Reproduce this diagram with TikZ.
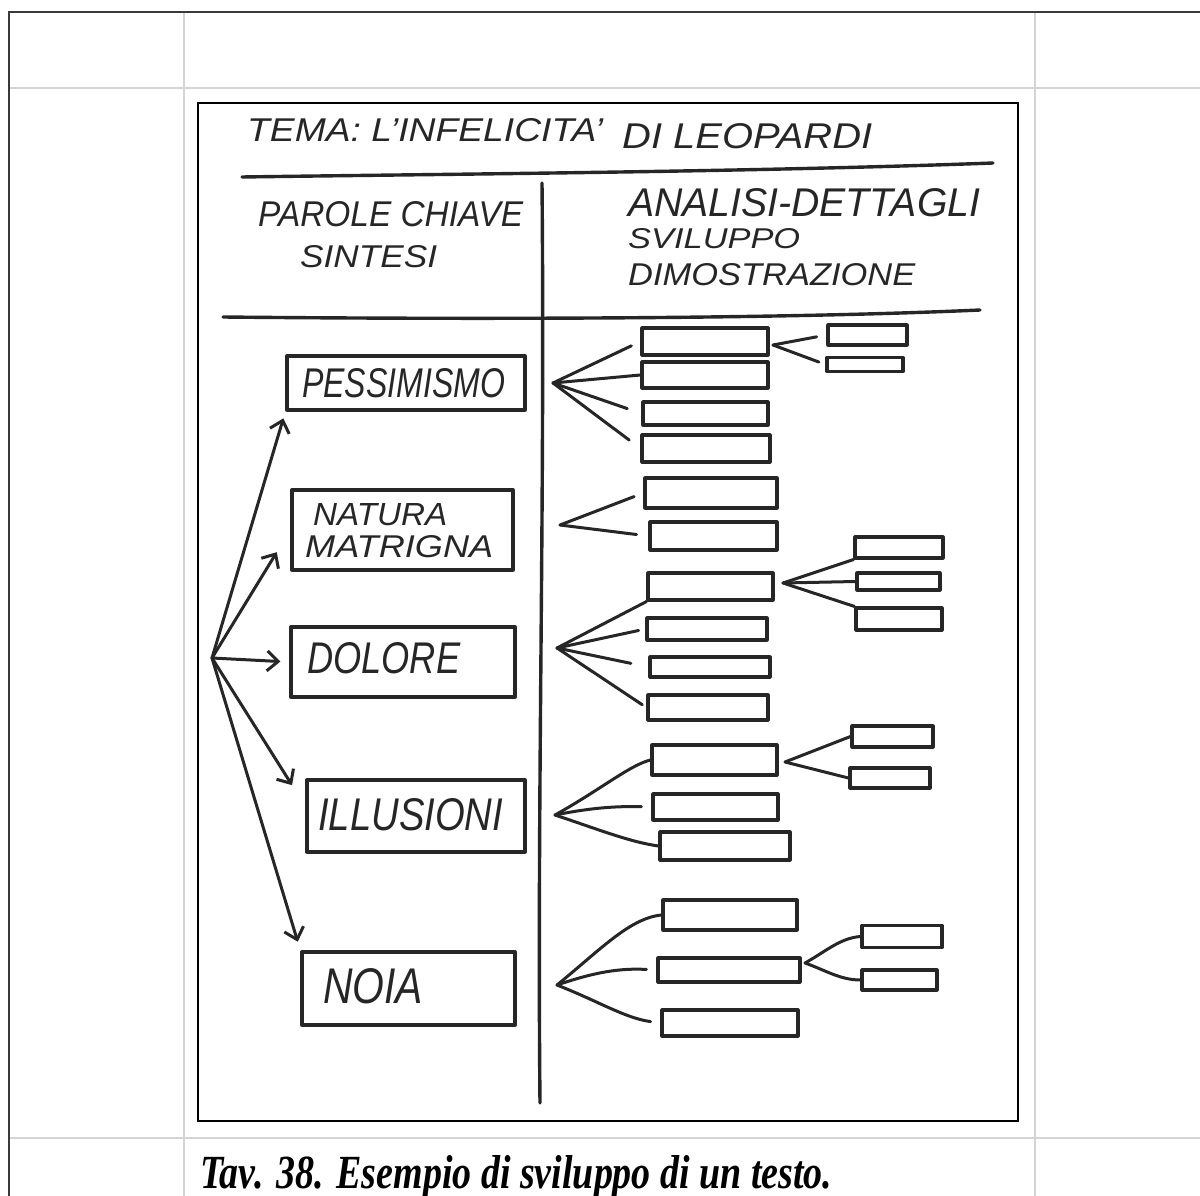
\documentclass[tikz,border=0pt]{standalone}
\usepackage{fontspec}
\usepackage{graphicx}
\usetikzlibrary{arrows.meta}

\newfontfamily\handfont{Liberation Sans}
\newfontfamily\capfont{Liberation Serif}

% handwritten-style label fitted to a given width and cap height
\newcommand{\hw}[3]{\resizebox{#1pt}{#2pt}{\handfont\itshape #3}}

\definecolor{ink}{HTML}{262626}
\definecolor{gridgray}{HTML}{D4D4D4}
\definecolor{tableborder}{HTML}{3A3A3A}

\tikzset{
  boxwh/.style 2 args={rectangle, draw=ink, line width=3.3pt, line join=round,
    inner sep=0pt, minimum width=#1pt, minimum height=#2pt},
  barwh/.style 2 args={rectangle, draw=ink, line width=3.1pt, line join=round,
    inner sep=0pt, minimum width=#1pt, minimum height=#2pt},
  lbl/.style={anchor=base west, inner sep=0pt, text=ink},
  pen/.style={draw=ink, line width=3.4pt, line cap=round, line join=round},
  fan/.style={draw=ink, line width=3pt, line cap=round},
  harrow/.style={fan, -{Straight Barb[length=11pt,width=20pt]}},
}

\begin{document}
\begin{tikzpicture}[x=1pt,y=-1pt]
\useasboundingbox (0,0) rectangle (1200,1196);

% page table
\draw[gridgray, line width=2pt]
  (184,13) -- (184,1196) (1035,13) -- (1035,1196)
  (9,88) -- (1200,88) (9,1138) -- (1200,1138);
\draw[tableborder, line width=2.2pt] (9,1196) -- (9,12) -- (1200,12);

% figure frame
\draw[black, line width=1.6pt] (198,103) rectangle (1018,1121);

% header
\node[lbl] (title1) at (247,142) {\hw{356}{23}{TEMA: L’INFELICITA’}};
\node[lbl] (title2) at (622,149) {\hw{250}{25}{DI LEOPARDI}};
\coordinate (ruleAl) at (242,177);
\coordinate (ruleAr) at (993,163);
\draw[pen] (ruleAl) .. controls (450,174) and (750,172) .. (ruleAr);

\node[lbl] (hdL1) at (258,226) {\hw{265}{25}{PAROLE CHIAVE}};
\node[lbl] (hdL2) at (300,267) {\hw{137}{22}{SINTESI}};
\node[lbl] (hdR1) at (628,216) {\hw{352}{28}{ANALISI-DETTAGLI}};
\node[lbl] (hdR2) at (628,248) {\hw{172}{20}{SVILUPPO}};
\node[lbl] (hdR3) at (628,285) {\hw{287}{22}{DIMOSTRAZIONE}};

\coordinate (ruleBl) at (223,317);
\coordinate (ruleBr) at (980,310);
\draw[pen] (ruleBl) .. controls (420,319) and (760,320) .. (ruleBr);

\coordinate (divTop) at (542,183);
\coordinate (divBot) at (540,1103);
\draw[pen] (divTop) .. controls (545,500) and (537,800) .. (divBot);

% key words
\node[boxwh={238}{54}] (pes) at (406,383) {};
\node[boxwh={221}{80}] (nat) at (402.5,530) {};
\node[boxwh={224}{70}] (dol) at (403,662) {};
\node[boxwh={218}{72}] (ill) at (416,816) {};
\node[boxwh={213}{73}] (noi) at (408.5,988.5) {};

\node[lbl] (tPes) at (302,397) {\hw{203}{29}{PESSIMISMO}};
\node[lbl] (tNat1) at (313,525) {\hw{134}{22}{NATURA}};
\node[lbl] (tNat2) at (305,557) {\hw{188}{22}{MATRIGNA}};
\node[lbl] (tDol) at (307,673) {\hw{153}{31}{DOLORE}};
\node[lbl] (tIll) at (318,830) {\hw{185}{32}{ILLUSIONI}};
\node[lbl] (tNoi) at (323,1003) {\hw{100}{35}{NOIA}};

% arrows from the theme to the key words
\coordinate (hub) at (212,658);
\draw[harrow, shorten >=7pt] (hub) -- (pes.south west);
\draw[harrow, shorten >=26pt] (hub) -- (nat.west);
\draw[harrow, shorten >=9pt] (hub) -- (dol.west);
\draw[harrow, shorten >=25pt] (hub) -- (ill.175);
\draw[harrow, shorten >=9pt] (hub) -- (noi.north west);

% details: bars
\node[barwh={126}{27}] (b1) at (705,341.5) {};
\node[barwh={126}{26}] (b2) at (705,375) {};
\node[barwh={125}{23}] (b3) at (705.5,413.5) {};
\node[barwh={128}{27}] (b4) at (706,448.5) {};
\node[barwh={132}{30}] (b5) at (711,493) {};
\node[barwh={127}{28}] (b6) at (713.5,536) {};
\node[barwh={125}{27}] (b7) at (710.5,586.5) {};
\node[barwh={120}{22}] (b8) at (707,629) {};
\node[barwh={120}{20}] (b9) at (710,667) {};
\node[barwh={120}{25}] (b10) at (708,707.5) {};
\node[barwh={125}{30}] (b11) at (714.5,760) {};
\node[barwh={125}{26}] (b12) at (715.5,807) {};
\node[barwh={130}{28}] (b13) at (725,846) {};
\node[barwh={134}{30}] (b14) at (730,915) {};
\node[barwh={142}{24}] (b15) at (729,970) {};
\node[barwh={136}{26}] (b16) at (730,1023) {};

\node[barwh={79}{20}] (s1) at (867.5,335) {};
\node[barwh={76}{14}] (s2) at (865,364.5) {};
\node[barwh={88}{21}] (s3) at (899,547.5) {};
\node[barwh={83}{17}] (s4) at (898.5,581.5) {};
\node[barwh={86}{22}] (s5) at (899,619) {};
\node[barwh={81}{21}] (s6) at (892.5,736.5) {};
\node[barwh={80}{20}] (s7) at (890,778) {};
\node[barwh={80}{22}] (s8) at (902,936.5) {};
\node[barwh={75}{20}] (s9) at (899.5,980) {};

% fans towards the bars
\coordinate (fPes) at (553,383);
\draw[fan, shorten >=10pt] (fPes) -- (b1.west);
\draw[fan] (fPes) -- (b2.west);
\draw[fan, shorten >=15pt] (fPes) -- (b3.west);
\draw[fan, shorten >=14pt] (fPes) -- (b4.west);

\coordinate (fNat) at (560,525);
\draw[fan, shorten >=10pt] (fNat) -- (b5.west);
\draw[fan, shorten >=12pt] (fNat) -- (b6.west);

\coordinate (fDol) at (557,648);
\draw[fan] (fDol) -- (b7.south west);
\draw[fan, shorten >=7pt] (fDol) -- (b8.west);
\draw[fan, shorten >=18pt] (fDol) -- (b9.west);
\draw[fan, shorten >=5pt] (fDol) -- (b10.west);

\coordinate (fIll) at (555,815);
\draw[fan] (fIll) .. controls (600,790) and (630,765) .. (b11.west);
\draw[fan, shorten >=10pt] (fIll) .. controls (590,808) and (615,806) .. (b12.west);
\draw[fan] (fIll) .. controls (600,830) and (630,842) .. (b13.west);

\coordinate (fNoi) at (557,985);
\draw[fan] (fNoi) .. controls (600,950) and (630,918) .. (b14.west);
\draw[fan, shorten >=10pt] (fNoi) .. controls (595,972) and (620,968) .. (b15.west);
\draw[fan, shorten >=10pt] (fNoi) .. controls (600,1002) and (625,1018) .. (b16.west);

% second-level fans
\coordinate (fB1) at (773,345);
\draw[fan, shorten >=10pt] (fB1) -- (s1.west);
\draw[fan, shorten >=7pt] (fB1) -- (s2.west);

\coordinate (fB7) at (783,583);
\draw[fan] (fB7) -- (s3.south west);
\draw[fan] (fB7) -- (s4.west);
\draw[fan] (fB7) -- (s5.north west);

\coordinate (fB11) at (785,762);
\draw[fan] (fB11) -- (s6.west);
\draw[fan] (fB11) -- (s7.west);

\coordinate (fB15) at (805,963);
\draw[fan] (fB15) .. controls (825,952) and (840,938) .. (s8.west);
\draw[fan] (fB15) .. controls (825,970) and (840,980) .. (s9.west);

% caption
\node[anchor=base west, inner sep=0pt] (caption) at (200,1188)
  {\resizebox{632pt}{33pt}{\capfont\bfseries\itshape Tav. 38. Esempio di sviluppo di un testo.}};
\end{tikzpicture}
\end{document}
